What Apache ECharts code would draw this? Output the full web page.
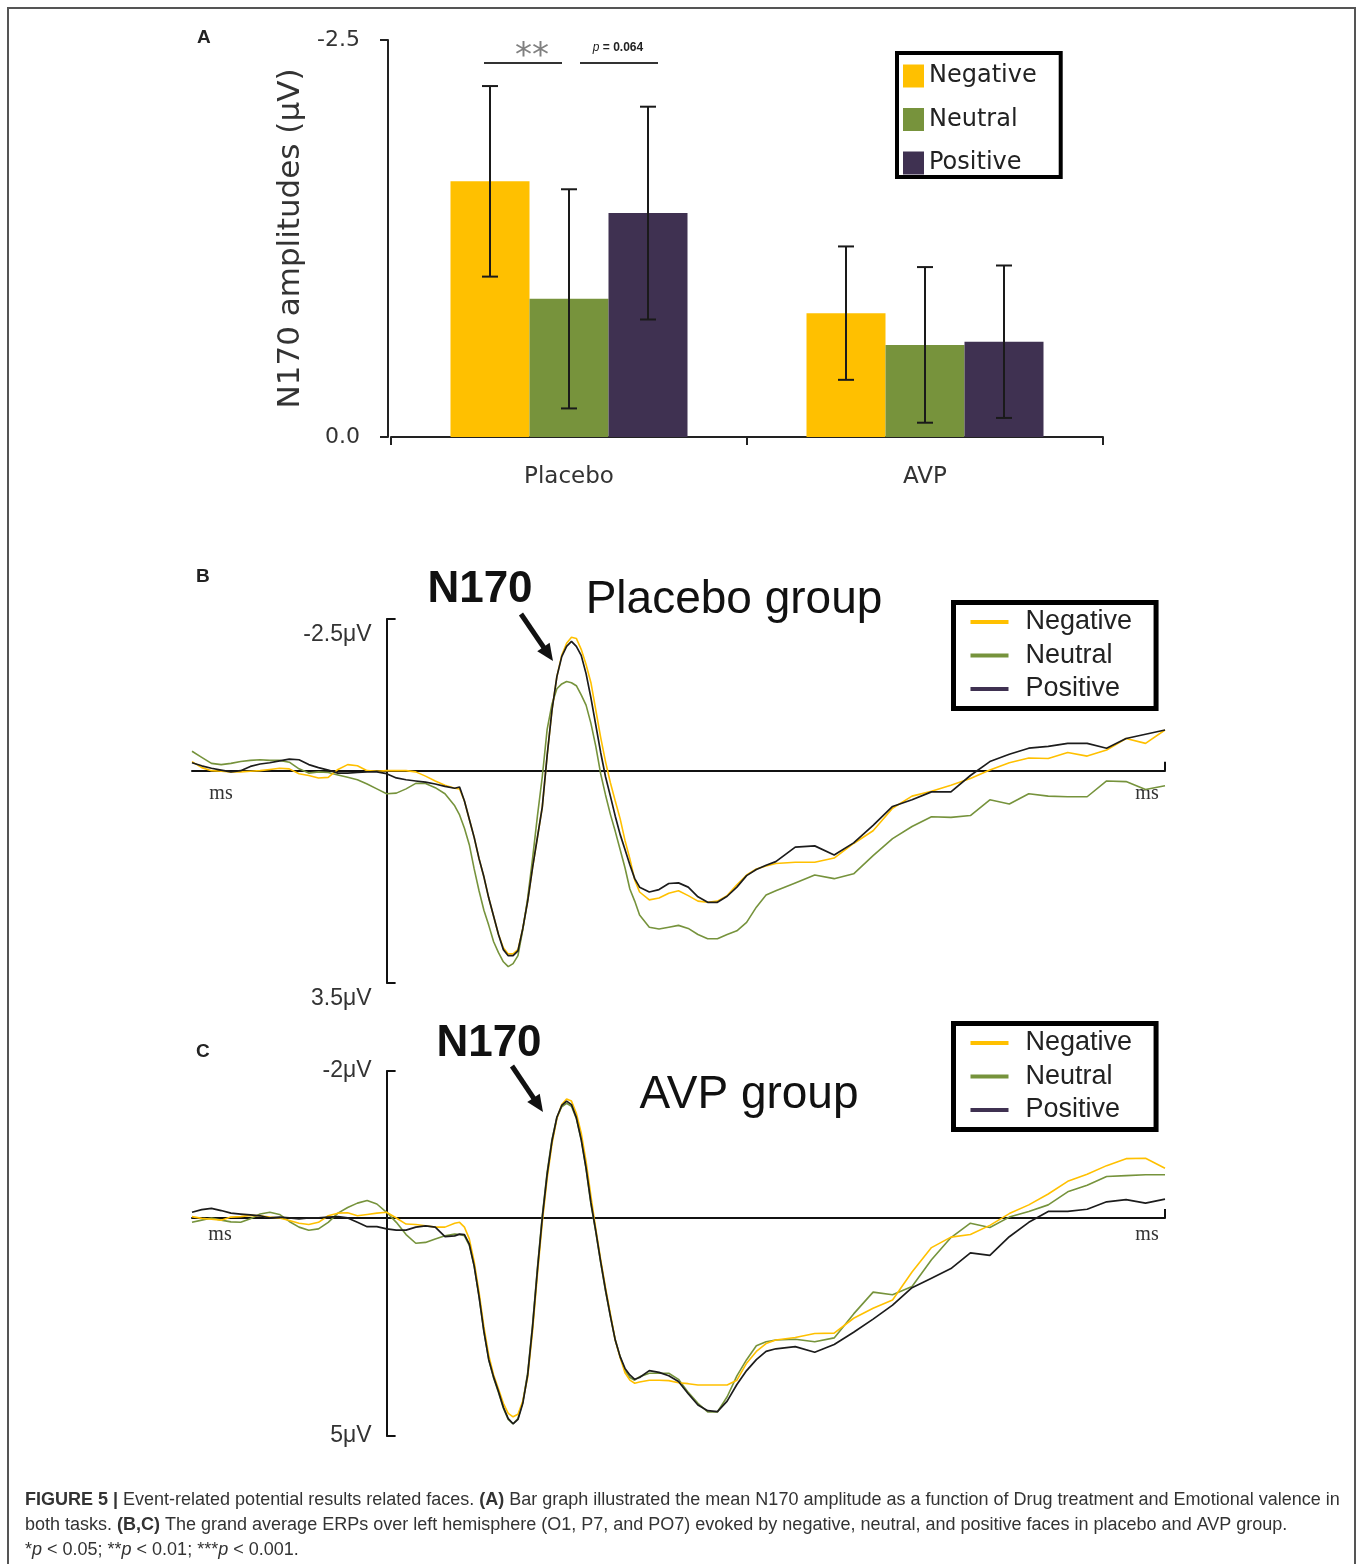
<!DOCTYPE html>
<html><head><meta charset="utf-8">
<script src="https://cdn.jsdelivr.net/npm/echarts@6/dist/echarts.min.js"></script>
<style>html,body{margin:0;padding:0;background:#fff}#c{width:1360px;height:1564px}</style>
</head><body><div id="c"></div>
<script>
// ---------- Panel A data ----------
const groups = ['Placebo', 'AVP'];
const conditions = ['Negative', 'Neutral', 'Positive'];
const barNegative = [-1.61, -0.78];
const barNeutral  = [-0.87, -0.58];
const barPositive = [-1.41, -0.60];
const errNegative = [0.60, 0.42];
const errNeutral  = [0.69, 0.49];
const errPositive = [0.67, 0.48];
const ticksA = [-2.5, 0];

// ---------- Panels B / C data (time in ms, amplitude in µV) ----------
const timeMs = [-200,-190,-180,-170,-160,-150,-140,-130,-120,-110,-100,-90,-80,-70,-60,-50,-40,-30,-20,-10,0,
10,20,30,40,50,60,70,
75,80,85,90,95,100,105,110,115,120,125,130,135,140,145,150,155,160,165,170,175,180,185,190,195,200,205,210,215,220,225,230,235,240,245,250,255,260,
270,280,290,300,310,320,330,340,350,360,370,380,390,400,
420,440,460,480,500,520,540,560,580,600,620,640,660,680,700,720,740,760,780,800];

const placeboNegative = [-0.15,-0.05,0.0,0.01,0.02,0.02,0.01,0.0,-0.02,-0.04,-0.03,0.05,0.08,0.12,0.11,-0.02,-0.1,-0.08,0.0,0.01,0.0,
0.0,0.0,0.02,0.09,0.17,0.24,0.29,
0.3,0.5,0.8,1.1,1.45,1.75,2.1,2.4,2.7,2.92,3.02,3.02,2.95,2.6,2.15,1.6,1.1,0.6,-0.25,-1.0,-1.55,-1.9,-2.1,-2.2,-2.18,-2.0,-1.75,-1.45,-1.0,-0.55,-0.15,0.2,0.5,0.79,1.15,1.45,1.8,2.0,
2.13,2.1,2.02,1.98,2.06,2.15,2.17,2.15,2.06,1.88,1.72,1.62,1.57,1.53,
1.51,1.51,1.44,1.2,0.99,0.62,0.42,0.34,0.24,0.13,-0.01,-0.13,-0.21,-0.2,-0.3,-0.24,-0.34,-0.53,-0.45,-0.67];

const placeboNeutral = [-0.32,-0.22,-0.12,-0.1,-0.12,-0.15,-0.17,-0.18,-0.17,-0.17,-0.14,-0.03,0.04,0.02,0.03,0.07,0.11,0.15,0.22,0.3,0.38,
0.37,0.3,0.21,0.21,0.28,0.38,0.58,
0.73,0.95,1.22,1.62,1.98,2.3,2.55,2.82,3.0,3.15,3.23,3.18,3.05,2.62,2.1,1.45,0.75,0.1,-0.68,-1.1,-1.35,-1.43,-1.47,-1.45,-1.4,-1.25,-1.08,-0.78,-0.4,0.05,0.4,0.72,1.0,1.3,1.6,1.95,2.15,2.38,
2.58,2.61,2.58,2.55,2.6,2.7,2.77,2.77,2.7,2.64,2.5,2.25,2.05,1.98,
1.85,1.72,1.78,1.7,1.4,1.12,0.92,0.76,0.77,0.74,0.48,0.55,0.38,0.42,0.43,0.43,0.17,0.18,0.31,0.25];

const placeboPositive = [-0.13,-0.08,-0.04,-0.01,0.02,0.0,-0.07,-0.11,-0.13,-0.16,-0.19,-0.18,-0.1,-0.05,-0.01,0.04,0.04,0.03,0.02,0.02,0.05,
0.12,0.15,0.17,0.19,0.22,0.26,0.29,
0.27,0.5,0.8,1.1,1.45,1.75,2.1,2.4,2.7,2.95,3.05,3.05,2.97,2.6,2.15,1.6,1.1,0.6,-0.25,-1.0,-1.55,-1.88,-2.05,-2.13,-2.05,-1.9,-1.6,-1.2,-0.75,-0.3,0.1,0.42,0.75,1.05,1.3,1.55,1.78,1.92,
2.0,1.96,1.86,1.85,1.92,2.08,2.17,2.17,2.07,1.92,1.73,1.63,1.56,1.5,
1.26,1.24,1.39,1.19,0.9,0.59,0.48,0.35,0.35,0.08,-0.15,-0.27,-0.37,-0.40,-0.45,-0.45,-0.37,-0.53,-0.6,-0.67];

const avpNegative = [-0.03,0.01,0.03,0.05,-0.02,-0.03,-0.06,-0.05,-0.02,0.0,0.06,0.12,0.15,0.1,-0.05,-0.11,-0.12,-0.05,-0.08,-0.11,-0.13,
0.0,0.14,0.15,0.18,0.21,0.21,0.12,
0.1,0.21,0.48,1.0,1.7,2.5,3.15,3.6,3.92,4.25,4.48,4.56,4.5,4.2,3.65,2.6,1.3,0.1,-0.9,-1.7,-2.28,-2.6,-2.73,-2.68,-2.4,-1.95,-1.3,-0.5,0.25,0.95,1.6,2.2,2.8,3.2,3.55,3.72,3.79,3.76,
3.72,3.72,3.73,3.78,3.8,3.83,3.83,3.83,3.83,3.72,3.33,3.06,2.88,2.8,
2.74,2.65,2.64,2.3,2.07,1.88,1.24,0.68,0.44,0.38,0.17,-0.1,-0.3,-0.55,-0.84,-1.0,-1.2,-1.36,-1.37,-1.14];

const avpNeutral = [0.1,0.05,0.0,0.05,0.09,0.1,0.02,-0.09,-0.13,-0.08,0.08,0.21,0.28,0.25,0.1,-0.11,-0.24,-0.34,-0.4,-0.32,-0.13,
0.1,0.38,0.58,0.56,0.48,0.41,0.37,
0.38,0.41,0.63,1.1,1.8,2.6,3.25,3.67,4.0,4.36,4.62,4.72,4.6,4.22,3.55,2.45,1.15,-0.05,-1.05,-1.8,-2.3,-2.55,-2.63,-2.56,-2.28,-1.8,-1.12,-0.32,0.32,1.02,1.68,2.25,2.8,3.18,3.5,3.66,3.72,3.64,
3.56,3.56,3.56,3.7,4.0,4.25,4.45,4.45,4.1,3.62,3.25,2.93,2.84,2.8,
2.78,2.84,2.75,2.2,1.7,1.76,1.57,0.96,0.45,0.12,0.22,-0.02,-0.15,-0.3,-0.6,-0.75,-0.95,-0.97,-0.99,-0.99];

const avpPositive = [-0.13,-0.19,-0.22,-0.17,-0.11,-0.09,-0.07,-0.05,0.0,-0.02,0.0,0.02,0.0,0.0,-0.02,-0.03,0.0,0.1,0.2,0.2,0.25,
0.28,0.28,0.21,0.18,0.21,0.43,0.41,
0.37,0.38,0.6,1.1,1.8,2.6,3.25,3.65,3.98,4.34,4.6,4.72,4.62,4.25,3.6,2.5,1.2,0.0,-1.0,-1.77,-2.31,-2.58,-2.68,-2.6,-2.3,-1.8,-1.15,-0.35,0.3,1.0,1.65,2.25,2.8,3.18,3.45,3.6,3.7,3.66,
3.5,3.54,3.62,3.75,4.03,4.29,4.42,4.44,4.2,3.82,3.5,3.25,3.06,3.0,
2.95,3.08,2.9,2.62,2.32,2.0,1.6,1.38,1.16,0.8,0.86,0.43,0.1,-0.15,-0.15,-0.2,-0.37,-0.42,-0.34,-0.43];

const rangeB = [-2.5, 3.5];
const rangeC = [-3.37, 5];
const ticksB = ['-2.5μV', '3.5μV'];
const ticksC = ['-2μV', '5μV'];
const timeUnit = 'ms';

// ---------- styles ----------
const barColors = {Negative: '#FFC000', Neutral: '#77933C', Positive: '#3F3151'};
const lineColors = {Negative: '#FFC000', Neutral: '#76933C', Positive: '#1c1c1c'};
const SANS = 'Liberation Sans, Arial, sans-serif';
const DV = 'DejaVu Sans, Verdana, sans-serif';
const BAR_W = 79;
const GRID_W = 973;

const chart = echarts.init(document.getElementById('c'), null, {renderer: 'canvas'});

function errSeries(vals, errs, idx) {
  return {
    type: 'custom', xAxisIndex: 0, yAxisIndex: 0, z: 5,
    data: groups.map((g, i) => [i, vals[i] - errs[i], vals[i] + errs[i]]),
    renderItem: function (params, api) {
      const c = api.value(0);
      const p1 = api.coord([c, api.value(1)]);
      const p2 = api.coord([c, api.value(2)]);
      const x = p1[0] + (idx - 1) * BAR_W;
      const cap = 8;
      const st = {stroke: '#1a1a1a', lineWidth: 2};
      return {type: 'group', children: [
        {type: 'line', shape: {x1: x, y1: p1[1], x2: x, y2: p2[1]}, style: st},
        {type: 'line', shape: {x1: x - cap, y1: p1[1], x2: x + cap, y2: p1[1]}, style: st},
        {type: 'line', shape: {x1: x - cap, y1: p2[1], x2: x + cap, y2: p2[1]}, style: st}
      ]};
    }
  };
}

function lineSeries(name, vals, gi) {
  return {
    type: 'line', name: name, xAxisIndex: gi, yAxisIndex: gi,
    data: timeMs.map((t, i) => [t, vals[i]]),
    symbol: 'none', showSymbol: false, smooth: false,
    lineStyle: {color: lineColors[name], width: name === 'Positive' ? 1.7 : 1.6},
    itemStyle: {color: lineColors[name]}, z: name === 'Positive' ? 4 : 3
  };
}

function ampXAxis(gi) {
  return {
    gridIndex: gi, type: 'value', min: timeMs[0], max: timeMs[timeMs.length - 1],
    axisLine: {onZero: true, lineStyle: {color: '#111', width: 2}},
    axisTick: {show: true, inside: true, length: 9, customValues: [timeMs[timeMs.length - 1]], lineStyle: {color: '#111', width: 2}},
    axisLabel: {show: false}, splitLine: {show: false}
  };
}
// y axis drawn at time 0 (stimulus onset): offset into the grid by the x-scale position of 0 ms
const zeroOffset = -(0 - timeMs[0]) / (timeMs[timeMs.length - 1] - timeMs[0]) * GRID_W;
function ampYAxis(gi, range, labels, vAlign, pad) {
  return {
    gridIndex: gi, type: 'value', inverse: true, min: range[0], max: range[1],
    offset: zeroOffset,
    axisLine: {show: true, onZero: false, lineStyle: {color: '#111', width: 2}},
    axisTick: {show: true, inside: true, length: 9, customValues: range, lineStyle: {color: '#111', width: 2}},
    axisLabel: {show: true, customValues: range, margin: 15,
      formatter: v => (Math.abs(v - range[0]) < 1e-9 ? labels[0] : labels[1]),
      fontFamily: SANS, fontSize: 23, color: '#333', verticalAlign: vAlign, padding: pad},
    splitLine: {show: false}
  };
}

function lineLegend(top) {
  return {
    orient: 'vertical', left: 953.5, top: top, selectedMode: false,
    itemWidth: 38, itemHeight: 4, itemGap: 6.5,
    padding: [6, 24, 6, 17], borderColor: '#000', borderWidth: 5,
    textStyle: {fontFamily: SANS, fontSize: 27, color: '#222', padding: [0, 0, 0, 12]},
    data: conditions.map(n => ({name: n, icon: 'rect', itemStyle: {color: n === 'Positive' ? barColors.Positive : lineColors[n], borderWidth: 0}}))
  };
}

function arrow(x1, y1, x2, y2) {
  const dx = x2 - x1, dy = y2 - y1, L = Math.hypot(dx, dy), ux = dx / L, uy = dy / L;
  const hl = 17, hw = 7.5;
  const bx = x2 - ux * hl, by = y2 - uy * hl;
  return [
    {type: 'line', shape: {x1: x1, y1: y1, x2: bx + ux * 2, y2: by + uy * 2}, style: {stroke: '#111', lineWidth: 5}},
    {type: 'polygon', shape: {points: [[x2, y2], [bx - uy * hw, by + ux * hw], [bx + uy * hw, by - ux * hw]]}, style: {fill: '#111'}}
  ];
}

function txt(x, y, text, font, opts) {
  return Object.assign({type: 'text', x: x, y: y, style: Object.assign({text: text, fill: '#222', align: 'left', verticalAlign: 'middle'}, font)}, opts || {});
}

const capRich = {
  b: {fontFamily: SANS, fontSize: 18, fontWeight: 'bold', color: '#333'},
  i: {fontFamily: SANS, fontSize: 18, fontStyle: 'italic', color: '#333'}
};

const graphics = [
  {type: 'rect', shape: {x: 8, y: 8, width: 1347, height: 1620}, style: {fill: 'none', stroke: '#555', lineWidth: 2}},
  txt(197, 38, 'A', {fontFamily: SANS, fontSize: 19, fontWeight: 'bold'}),
  txt(196, 577, 'B', {fontFamily: SANS, fontSize: 19, fontWeight: 'bold'}),
  txt(196, 1052, 'C', {fontFamily: SANS, fontSize: 19, fontWeight: 'bold'}),
  // significance marks
  {type: 'line', shape: {x1: 484, y1: 63, x2: 562, y2: 63}, style: {stroke: '#333', lineWidth: 2}},
  {type: 'line', shape: {x1: 580, y1: 63, x2: 658, y2: 63}, style: {stroke: '#333', lineWidth: 2}},
  txt(532, 57, '**', {fontFamily: DV, fontSize: 34, fill: '#808080', align: 'center'}),
  {type: 'text', x: 618, y: 48, style: {text: '{i|p} {n|= 0.064}', align: 'center', verticalAlign: 'middle',
    rich: {i: {fontFamily: SANS, fontSize: 12, fontStyle: 'italic', fill: '#222'}, n: {fontFamily: SANS, fontSize: 12, fontWeight: 'bold', fill: '#222'}}}},
  // titles
  txt(480, 590, 'N170', {fontFamily: SANS, fontSize: 44, fontWeight: 'bold', align: 'center', fill: '#111'}),
  txt(734, 600, 'Placebo group', {fontFamily: SANS, fontSize: 46, align: 'center', fill: '#111'}),
  txt(489, 1044, 'N170', {fontFamily: SANS, fontSize: 44, fontWeight: 'bold', align: 'center', fill: '#111'}),
  txt(749, 1095, 'AVP group', {fontFamily: SANS, fontSize: 46, align: 'center', fill: '#111'}),
  ...arrow(521, 614, 553, 661),
  ...arrow(512, 1066, 543, 1112),
  // time unit labels
  txt(221, 794, timeUnit, {fontFamily: 'Liberation Serif, serif', fontSize: 20, align: 'center', fill: '#333'}),
  txt(1147, 794, timeUnit, {fontFamily: 'Liberation Serif, serif', fontSize: 20, align: 'center', fill: '#333'}),
  txt(220, 1235, timeUnit, {fontFamily: 'Liberation Serif, serif', fontSize: 20, align: 'center', fill: '#333'}),
  txt(1147, 1235, timeUnit, {fontFamily: 'Liberation Serif, serif', fontSize: 20, align: 'center', fill: '#333'}),
  // caption
  {type: 'text', x: 25, y: 1500, style: {text: '{b|FIGURE 5 |} Event-related potential results related faces. {b|(A)} Bar graph illustrated the mean N170 amplitude as a function of Drug treatment and Emotional valence in', verticalAlign: 'middle', fontFamily: SANS, fontSize: 18, fill: '#333', rich: capRich}},
  {type: 'text', x: 25, y: 1525, style: {text: 'both tasks. {b|(B,C)} The grand average ERPs over left hemisphere (O1, P7, and PO7) evoked by negative, neutral, and positive faces in placebo and AVP group.', verticalAlign: 'middle', fontFamily: SANS, fontSize: 18, fill: '#333', rich: capRich}},
  {type: 'text', x: 25, y: 1550, style: {text: '*{i|p} < 0.05; **{i|p} < 0.01; ***{i|p} < 0.001.', verticalAlign: 'middle', fontFamily: SANS, fontSize: 18, fill: '#333', rich: capRich}}
];

const option = {
  animation: false,
  backgroundColor: '#fff',
  grid: [
    {left: 391, top: 40, width: 712, height: 397},
    {left: 192, top: 619, width: GRID_W, height: 364},
    {left: 192, top: 1071, width: GRID_W, height: 365}
  ],
  xAxis: [
    {gridIndex: 0, type: 'category', data: groups,
      axisLine: {lineStyle: {color: '#222', width: 2}},
      axisTick: {show: true, length: 8, lineStyle: {color: '#222', width: 2}},
      axisLabel: {fontFamily: DV, fontSize: 23, color: '#333', margin: 29}},
    ampXAxis(1), ampXAxis(2)
  ],
  yAxis: [
    {gridIndex: 0, type: 'value', inverse: true, min: ticksA[0], max: ticksA[1], interval: ticksA[1] - ticksA[0],
      offset: 3,
      axisLine: {show: true, lineStyle: {color: '#222', width: 2}},
      axisTick: {show: true, length: 8, lineStyle: {color: '#222', width: 2}},
      axisLabel: {formatter: v => Number(v).toFixed(1), fontFamily: DV, fontSize: 22, color: '#333', margin: 28},
      splitLine: {show: false},
      name: 'N170 amplitudes (μV)', nameLocation: 'middle', nameGap: 73, nameRotate: 90,
      nameTextStyle: {fontFamily: DV, fontSize: 31, color: '#333'}},
    ampYAxis(1, rangeB, ticksB, 'top', [4, 0, 0, 0]),
    ampYAxis(2, rangeC, ticksC, 'middle', [0, 0, 0, 0])
  ],
  legend: [
    {orient: 'vertical', left: 897, top: 53, selectedMode: false,
      itemWidth: 21, itemHeight: 23, itemGap: 19.5,
      padding: [11, 24, 2, 6], borderColor: '#000', borderWidth: 4,
      textStyle: {fontFamily: DV, fontSize: 24, color: '#222'},
      data: conditions.map(n => ({name: n, icon: 'rect', itemStyle: {color: barColors[n], borderWidth: 0}}))},
    lineLegend(602.5),
    lineLegend(1023.5)
  ],
  series: [
    {type: 'bar', name: 'Negative', xAxisIndex: 0, yAxisIndex: 0, data: barNegative, barWidth: BAR_W, barGap: '0%', itemStyle: {color: barColors.Negative}},
    {type: 'bar', name: 'Neutral', xAxisIndex: 0, yAxisIndex: 0, data: barNeutral, barWidth: BAR_W, barGap: '0%', itemStyle: {color: barColors.Neutral}},
    {type: 'bar', name: 'Positive', xAxisIndex: 0, yAxisIndex: 0, data: barPositive, barWidth: BAR_W, barGap: '0%', itemStyle: {color: barColors.Positive}},
    errSeries(barNegative, errNegative, 0),
    errSeries(barNeutral, errNeutral, 1),
    errSeries(barPositive, errPositive, 2),
    lineSeries('Neutral', placeboNeutral, 1),
    lineSeries('Negative', placeboNegative, 1),
    lineSeries('Positive', placeboPositive, 1),
    lineSeries('Neutral', avpNeutral, 2),
    lineSeries('Negative', avpNegative, 2),
    lineSeries('Positive', avpPositive, 2)
  ],
  graphic: graphics
};
chart.setOption(option);
</script>
</body></html>
